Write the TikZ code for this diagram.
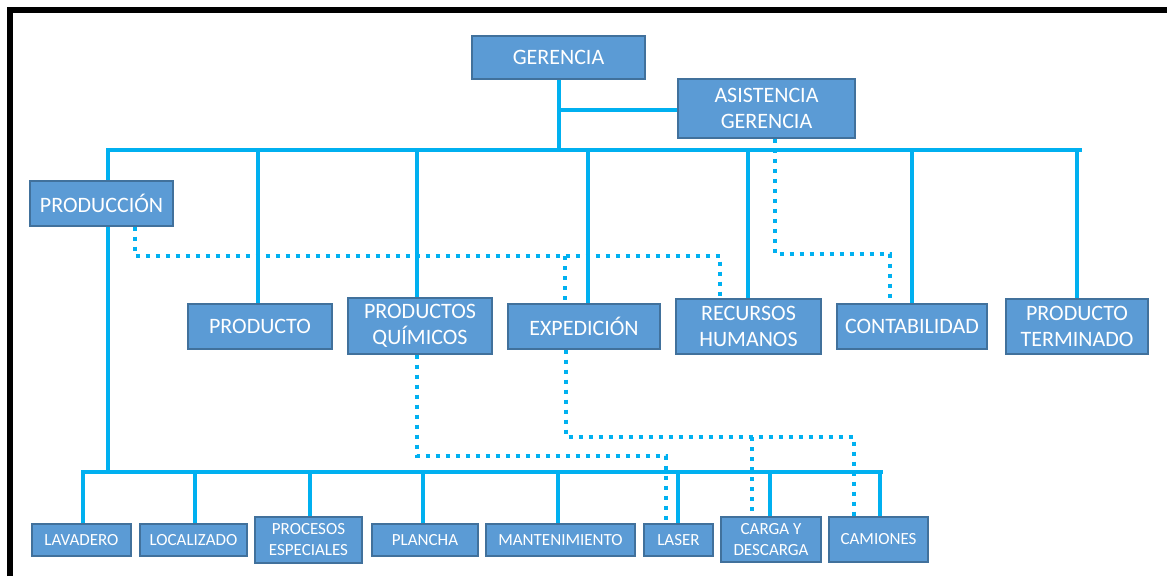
\documentclass[tikz,border=0pt]{standalone}
\usepackage{fontspec}
\setmainfont{Carlito}
\usetikzlibrary{backgrounds}
\definecolor{boxfill}{HTML}{5B9BD5}
\definecolor{boxline}{HTML}{41719C}
\definecolor{link}{HTML}{00B0F0}
\begin{document}
\begin{tikzpicture}[x=1pt,y=-1pt,
  unit/.style={draw=boxline, fill=boxfill, line width=1.2pt, text=white,
    align=center, inner sep=0pt, font=\fontsize{22}{26}\selectfont},
  small/.style={unit, font=\fontsize{17}{21}\selectfont},
  solid link/.style={draw=link, line width=4pt},
  dot link/.style={draw=link, line width=4pt, dash pattern=on 4pt off 6pt},
  frame/.style={draw=black, line width=6pt}]
\useasboundingbox (0,0) rectangle (1167,576);
\draw[frame] (10,576) -- (10,10) -- (1167,10);

% top level
\node[unit, minimum width=173pt, minimum height=43pt] (ger) at (558.5,57.5) {GERENCIA};
\node[unit, minimum width=177pt, minimum height=59pt] (asis) at (766.5,108.5) {ASISTENCIA\\GERENCIA};
\node[unit, minimum width=143pt, minimum height=45pt] (prod) at (101.5,203.5) {PRODUCCIÓN};

% departments
\node[unit, minimum width=144pt, minimum height=45pt] (pto) at (260,326.5) {PRODUCTO};
\node[unit, minimum width=144pt, minimum height=56pt] (quim) at (420,326) {PRODUCTOS\\QUÍMICOS};
\node[unit, minimum width=152pt, minimum height=45pt] (exp) at (584,326.5) {EXPEDICIÓN};
\node[unit, minimum width=145pt, minimum height=55pt] (rrhh) at (748.5,326.5) {RECURSOS\\HUMANOS};
\node[unit, minimum width=150pt, minimum height=45pt] (cont) at (912,326.5) {CONTABILIDAD};
\node[unit, minimum width=142pt, minimum height=55pt] (pterm) at (1077,326.5) {PRODUCTO\\TERMINADO};

% production areas
\node[small, minimum width=99pt, minimum height=32pt] (lav) at (81.5,540) {LAVADERO};
\node[small, minimum width=107pt, minimum height=32pt] (loc) at (193.5,540) {LOCALIZADO};
\node[small, minimum width=107pt, minimum height=46pt] (proc) at (308.5,540) {PROCESOS\\ESPECIALES};
\node[small, minimum width=106pt, minimum height=32pt] (plan) at (425,540) {PLANCHA};
\node[small, minimum width=149pt, minimum height=32pt] (mant) at (560.5,540) {MANTENIMIENTO};
\node[small, minimum width=69pt, minimum height=32pt] (laser) at (678.5,540) {LASER};
\node[small, minimum width=100pt, minimum height=45pt] (carga) at (771,539.5) {CARGA Y\\DESCARGA};
\node[small, minimum width=99pt, minimum height=45pt] (cam) at (878.5,539.5) {CAMIONES};

% bus end points and dotted-route corners
\coordinate (busL) at (108,150);
\coordinate (busR) at (1080,150);
\coordinate (bbusL) at (83,472);
\coordinate (bbusR) at (881,472);
\coordinate (spine) at (108,472);
\coordinate (d1) at (135,256);
\coordinate (d2) at (720,256);
\coordinate (d3) at (565,256);
\coordinate (a1) at (775,254);
\coordinate (a2) at (890,254);
\coordinate (q1) at (417,456);
\coordinate (q2) at (666,456);
\coordinate (e1) at (566,437);
\coordinate (e2) at (854,437);
\coordinate (e3) at (752,437);

\begin{scope}[on background layer]
  % solid reporting lines
  \draw[solid link] (ger.south) -- (ger.south |- busL);
  \draw[solid link] (ger.south |- 0,110) -- (asis.west |- 0,110);
  \draw[solid link, line cap=rect] (busL) -- (busR);
  \draw[solid link] (busL) -- (spine);
  \foreach \n/\x in {pto/258, quim/417, exp/588, rrhh/748, cont/912, pterm/1077}
    \draw[solid link] (\x,150) -- (\n.north -| \x,0);
  \draw[solid link, line cap=rect] (bbusL) -- (bbusR);
  \foreach \n/\x in {lav/83, loc/195, proc/310, plan/423, mant/558, laser/678, carga/770, cam/880}
    \draw[solid link] (\x,472) -- (\n.north -| \x,0);

  % dotted coordination lines
  \draw[dot link] (prod.south -| d1) -- (d1) -- (d2) -- (d2 |- rrhh.north);
  \draw[dot link] (d3) -- (d3 |- exp.north);
  \draw[dot link] (asis.south -| a1) -- (a1) -- (a2) -- (a2 |- cont.north);
  \draw[dot link] (quim.south -| q1) -- (q1) -- (q2) -- (q2 |- laser.north);
  \draw[dot link] (exp.south -| e1) -- (e1) -- (e2) -- (e2 |- cam.north);
  \draw[dot link] (e3) -- (e3 |- carga.north);
\end{scope}
\end{tikzpicture}
\end{document}
